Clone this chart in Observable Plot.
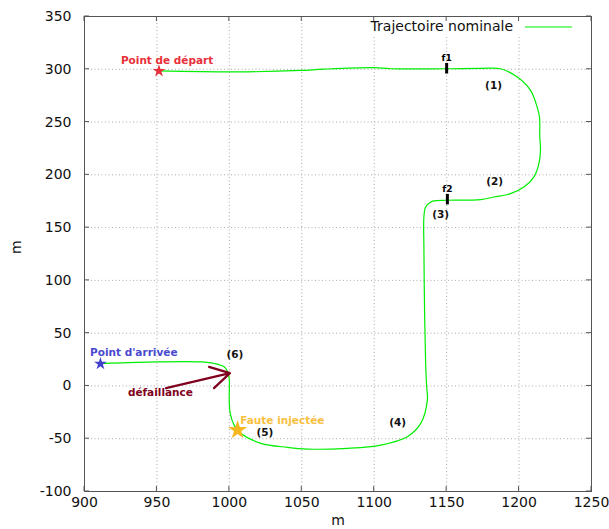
<!DOCTYPE html>
<html><head><meta charset="utf-8">
<script src="https://cdn.jsdelivr.net/npm/d3@7"></script>
<script src="https://cdn.jsdelivr.net/npm/@observablehq/plot@0.6"></script>
<style>body{margin:0;background:#fff}</style>
</head><body><div id="chart"></div>
<script>
// Trajectory (x, y in m)
const pathX = [951.4,1005.9,1049.3,1065.2,1099.7,1111.4,1149.3,1173.4,1187.2,1198.8,1207.9,1212.5,1214.1,1214.3,1214.8,1213.7,1210.2,1203.3,1194.1,1182.6,1173.4,1150.5,1141.2,1139.0,1135.5,1134.3,1134.3,1134.8,1135.5,1136.2,1136.7,1132.1,1122.9,1104.5,1081.5,1053.9,1040.1,1021.7,1007.9,1003.3,1000.6,999.9,999.9,998.8,996.4,989.5,980.3,950.5,913.7];
const pathY = [298.4,297.5,298.9,300.1,301.5,300.5,300.5,300.8,300.5,292.6,280.0,264.2,254.7,235.8,223.2,210.6,197.9,188.5,182.2,179.0,176.5,175.9,175.4,174.3,169.5,160.1,131.7,68.6,21.3,-0.8,-13.4,-35.5,-48.1,-56.0,-59.1,-59.8,-58.2,-54.4,-44.9,-37.1,-26.0,-13.4,7.1,13.4,18.1,21.3,22.8,22.8,21.3];
const xTicks = [900,950,1000,1050,1100,1150,1200,1250];
const yTicks = [-100,-50,0,50,100,150,200,250,300,350];
const startPt = [{x:951.4, y:298.4}];
const arrivalPt = [{x:911, y:21}];
const faultPt = [{x:1005.7, y:-41.8}];
const faultBars = [{name:"f1", x:1150, y:300.5}, {name:"f2", x:1150.5, y:176.5}];
const phaseLabels = [
  {text:"(1)", x:1182.4, y:284.7},{text:"(2)", x:1183.1, y:193.8},{text:"(3)", x:1145.9, y:162.6},
  {text:"(4)", x:1116.2, y:-35.2},{text:"(5)", x:1024.5, y:-44.6},{text:"(6)", x:1003.8, y:30.1}
];
const startLabel = [{text:"Point de départ", x:957, y:308.4}];
const arrivalLabel = [{text:"Point d'arrivée", x:934, y:32}];
const faultLabel = [{text:"Faute injectée", x:1007.5, y:-33.3}];
const failLabel = [{text:"défaillance", x:952.4, y:-6.3}];
const failArrow = [{x1:956.3, y1:-2.1, x2:1000.4, y2:12.1}];

const traj = pathX.map((x,i)=>({x, y:pathY[i]}));
const bold = {fontWeight:"bold", fontFamily:"DejaVu Sans", fontSize:10.5};

const chart = Plot.plot({
  width:609, height:529,
  marginLeft:84, marginRight:18, marginTop:16, marginBottom:38,
  x:{domain:[900,1250]}, y:{domain:[-100,350]},
  style:{fontFamily:"DejaVu Sans", fontSize:"14px", background:"white", color:"#111"},
  marks:[
    Plot.gridX(xTicks, {stroke:"#aaa", strokeOpacity:1, strokeDasharray:"1,2.5"}),
    Plot.gridY(yTicks, {stroke:"#aaa", strokeOpacity:1, strokeDasharray:"1,2.5"}),
    Plot.frame({stroke:"#555"}),
    Plot.axisX(xTicks, {tickSize:0, tickPadding:6, label:null, fontSize:14, tickFormat:d=>String(d)}),
    Plot.axisY(yTicks, {tickSize:0, tickPadding:13, label:null, fontSize:14, tickFormat:d=>String(d)}),
    Plot.text(["m"], {frameAnchor:"bottom", dy:33, fontSize:14}),
    Plot.text(["m"], {frameAnchor:"left", dx:-68, rotate:-90, fontSize:14}),
    Plot.line(traj, {x:"x", y:"y", stroke:"#00ee00", strokeWidth:1.2, curve:"catmull-rom"}),
    Plot.ruleX(faultBars, {x:"x", y1:d=>d.y-5, y2:d=>d.y+5, stroke:"black", strokeWidth:3}),
    Plot.text(faultBars, {x:"x", y:d=>d.y+10, text:"name", ...bold, fontSize:9, fill:"black"}),
    Plot.text(phaseLabels, {x:"x", y:"y", text:"text", ...bold, fill:"#111"}),
    Plot.arrow(failArrow, {x1:"x1", y1:"y1", x2:"x2", y2:"y2", stroke:"#800020", strokeWidth:2.2, headLength:16}),
    Plot.text(failLabel, {x:"x", y:"y", text:"text", ...bold, fill:"#800020"}),
    Plot.dot(startPt, {x:"x", y:"y", symbol:"star", r:4, fill:"#e8303a", stroke:"none"}),
    Plot.text(startLabel, {x:"x", y:"y", text:"text", ...bold, fill:"#e8303a"}),
    Plot.dot(arrivalPt, {x:"x", y:"y", symbol:"star", r:4, fill:"#4040cc", stroke:"none"}),
    Plot.text(arrivalLabel, {x:"x", y:"y", text:"text", ...bold, fill:"#4a4ad0"}),
    Plot.dot(faultPt, {x:"x", y:"y", symbol:"star", r:6, fill:"#f5b820", stroke:"none"}),
    Plot.text(faultLabel, {x:"x", y:"y", text:"text", ...bold, textAnchor:"start", fill:"#f8c040"})
  ]
});

// inward ticks on all four sides and the in-plot legend
const svg = d3.select(chart);
const sx = chart.scale("x"), sy = chart.scale("y");
const fLeft = 84, fRight = 609-18, fTop = 16, fBottom = 529-38;
svg.insert("rect", "g[aria-label='frame']")
  .attr("x", 362).attr("y", fTop+1).attr("width", fRight-362-1).attr("height", 18).attr("fill", "white");
const tg = svg.append("g").attr("stroke", "#555").attr("stroke-width", 1);
for (const t of xTicks) {
  const px = sx.apply(t);
  tg.append("line").attr("x1", px).attr("x2", px).attr("y1", fBottom).attr("y2", fBottom-5);
  tg.append("line").attr("x1", px).attr("x2", px).attr("y1", fTop).attr("y2", fTop+5);
}
for (const t of yTicks) {
  const py = sy.apply(t);
  tg.append("line").attr("x1", fLeft).attr("x2", fLeft+5).attr("y1", py).attr("y2", py);
  tg.append("line").attr("x1", fRight).attr("x2", fRight-5).attr("y1", py).attr("y2", py);
}
const lg = svg.append("g");
lg.append("text").attr("x", 513).attr("y", 27).attr("text-anchor", "end").attr("dominant-baseline", "middle")
  .attr("font-family", "DejaVu Sans").attr("font-size", 14).attr("fill", "#111").text("Trajectoire nominale");
lg.append("line").attr("x1", 525).attr("x2", 572).attr("y1", 27).attr("y2", 27).attr("stroke", "#00ee00").attr("stroke-width", 1.2);
document.getElementById("chart").appendChild(chart);
</script>
</body></html>
